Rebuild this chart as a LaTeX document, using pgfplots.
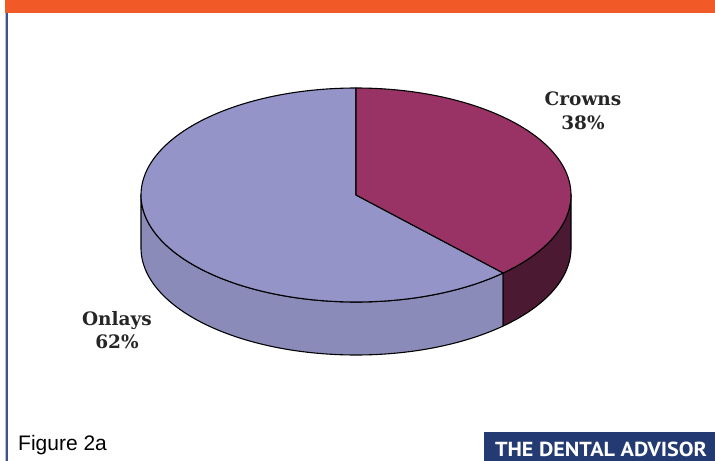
\documentclass[border=0pt]{standalone}
\usepackage{pgfplots}
\pgfplotsset{compat=1.18}
\usepackage{fontspec}
\setmainfont{Liberation Sans}
\newfontfamily\labfont{DejaVu Serif}
\newfontfamily\banfont{PT Sans}
\definecolor{orangebar}{HTML}{F15A26}
\definecolor{navy}{HTML}{243A73}
\definecolor{leftline}{HTML}{3E5190}
\definecolor{crtop}{HTML}{993366}
\definecolor{crside}{HTML}{4C1933}
\definecolor{ontop}{HTML}{9494C8}
\definecolor{onside}{HTML}{8B8BBA}
% data (percent)
\def\crowns{38}
\def\onlays{62}
% geometry of the 3D pie (pixels)
\def\cx{356}\def\cy{195}\def\ra{215}\def\rb{107}\def\dep{53}
\begin{document}
\begin{tikzpicture}
\pgfmathsetmacro{\tA}{90}
\pgfmathsetmacro{\tB}{90-3.6*\crowns}
\pgfmathsetmacro{\tC}{\tB-3.6*\onlays}
\begin{axis}[
  at={(0,0)}, anchor=south west,
  width=715bp, height=461bp, scale only axis,
  xmin=0, xmax=715, ymin=0, ymax=461, y dir=reverse,
  axis lines=none, clip=false,
]
% frame decorations
\fill[orangebar] (axis cs:5,0) rectangle (axis cs:715,13);
\fill[black!25] (axis cs:4.5,13) rectangle (axis cs:5.5,461);
\fill[leftline] (axis cs:5.5,13) rectangle (axis cs:8,461);
% Onlays side (front, from 180 to 360+tB)
\addplot[fill=onside, draw=black, line width=1.1pt, line join=round, domain=0:3, samples=301, variable=\s]
  ({\cx + \ra*cos(-180 + (\tB+180)*min(\s,1) - (\tB+180)*max(\s-2,0))},
   {\cy - \rb*sin(-180 + (\tB+180)*min(\s,1) - (\tB+180)*max(\s-2,0)) + \dep*min(max(\s-1,0),1)}) -- cycle;
% Crowns side (from tB to 0)
\addplot[fill=crside, draw=black, line width=1.1pt, line join=round, domain=0:3, samples=151, variable=\s]
  ({\cx + \ra*cos(\tB + (0-\tB)*min(\s,1) - (0-\tB)*max(\s-2,0))},
   {\cy - \rb*sin(\tB + (0-\tB)*min(\s,1) - (0-\tB)*max(\s-2,0)) + \dep*min(max(\s-1,0),1)}) -- cycle;
% Onlays top sector
\addplot[fill=ontop, draw=black, line width=1.1pt, line join=round, domain=0:3, samples=451, variable=\s]
  ({\cx + \ra*min(\s,1,3-\s)*cos(\tB + (\tC-\tB)*min(max(\s-1,0),1))},
   {\cy - \rb*min(\s,1,3-\s)*sin(\tB + (\tC-\tB)*min(max(\s-1,0),1))}) -- cycle;
% Crowns top sector
\addplot[fill=crtop, draw=black, line width=1.1pt, line join=round, domain=0:3, samples=301, variable=\s]
  ({\cx + \ra*min(\s,1,3-\s)*cos(\tA + (\tB-\tA)*min(max(\s-1,0),1))},
   {\cy - \rb*min(\s,1,3-\s)*sin(\tA + (\tB-\tA)*min(max(\s-1,0),1))}) -- cycle;
% labels
\node[align=center, font=\labfont\bfseries\fontsize{18.5bp}{23.5bp}\selectfont, text=black!85] at (axis cs:583,111) {Crowns\\38\%};
\node[align=center, font=\labfont\bfseries\fontsize{18.5bp}{23.5bp}\selectfont, text=black!85] at (axis cs:117,330) {Onlays\\62\%};
% footer
\node[anchor=base west, font=\fontsize{21bp}{24bp}\selectfont, inner sep=0pt] at (axis cs:18,450) {Figure 2a};
\fill[navy] (axis cs:484,432) rectangle (axis cs:715,461);
\node[font=\banfont\bfseries, text=white, inner sep=0pt] at (axis cs:601,449.5) {\resizebox{212bp}{14.5bp}{THE DENTAL ADVISOR}};
\end{axis}
\pgfresetboundingbox
\useasboundingbox (0,0) rectangle (715bp,461bp);
\end{tikzpicture}
\end{document}
